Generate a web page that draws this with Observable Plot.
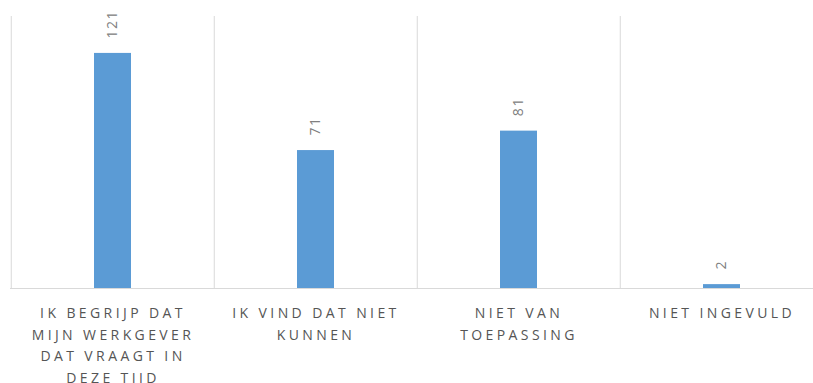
<!DOCTYPE html>
<html>
<head>
<meta charset="utf-8">
<script src="https://cdn.jsdelivr.net/npm/d3@7"></script>
<script src="https://cdn.jsdelivr.net/npm/@observablehq/plot@0.6"></script>
<style>
  html, body { margin: 0; padding: 0; background: #fff; }
  #chart svg { display: block; }
</style>
</head>
<body>
<div id="chart"></div>
<script>
const categories = ["IK BEGRIJP DAT MIJN WERKGEVER DAT VRAAGT IN DEZE TIJD", "IK VIND DAT NIET KUNNEN", "NIET VAN TOEPASSING", "NIET INGEVULD"];
const tickLabels = ["IK BEGRIJP DAT\nMIJN WERKGEVER\nDAT VRAAGT IN\nDEZE TIJD", "IK VIND DAT NIET\nKUNNEN", "NIET VAN\nTOEPASSING", "NIET INGEVULD"];
const values = [121, 71, 81, 2];

const data = categories.map((c, i) => ({category: c, value: values[i]}));
const xRange = [10, 824];
const step = (xRange[1] - xRange[0]) / categories.length;

const chart = Plot.plot({
  width: 813,
  height: 383,
  marginLeft: 10,
  marginRight: 0,
  marginTop: 16,
  marginBottom: 95,
  style: {fontFamily: "'Open Sans', sans-serif", background: "#fff"},
  x: {domain: categories, range: xRange, paddingInner: 0.82, paddingOuter: 0.41, label: null},
  y: {domain: [0, 140], axis: null},
  marks: [
    Plot.ruleX(categories, {x: d => d, dx: -step / 2, y1: 0, y2: 140, stroke: "#d9d9d9", strokeWidth: 1}),
    Plot.barY(data, {x: "category", y: "value", fill: "#5b9bd5"}),
    Plot.ruleY([0], {stroke: "#d9d9d9", strokeWidth: 1}),
    Plot.text(data, {x: "category", y: "value", text: d => String(d.value), rotate: -90, textAnchor: "start", dy: -15, fill: "#808080", fontSize: 14}),
    Plot.axisX({
      tickSize: 0,
      tickPadding: 14,
      tickFormat: d => tickLabels[categories.indexOf(d)],
      fontSize: 14,
      lineHeight: 1.55,
      color: "#555555",
      label: null
    })
  ]
});
d3.select(chart).selectAll("g[aria-label='x-axis tick label'] text").style("letter-spacing", "3.4px");
d3.select(chart).selectAll("g[aria-label='text'] text").style("letter-spacing", "1.5px");
document.getElementById("chart").appendChild(chart);
</script>
</body>
</html>
